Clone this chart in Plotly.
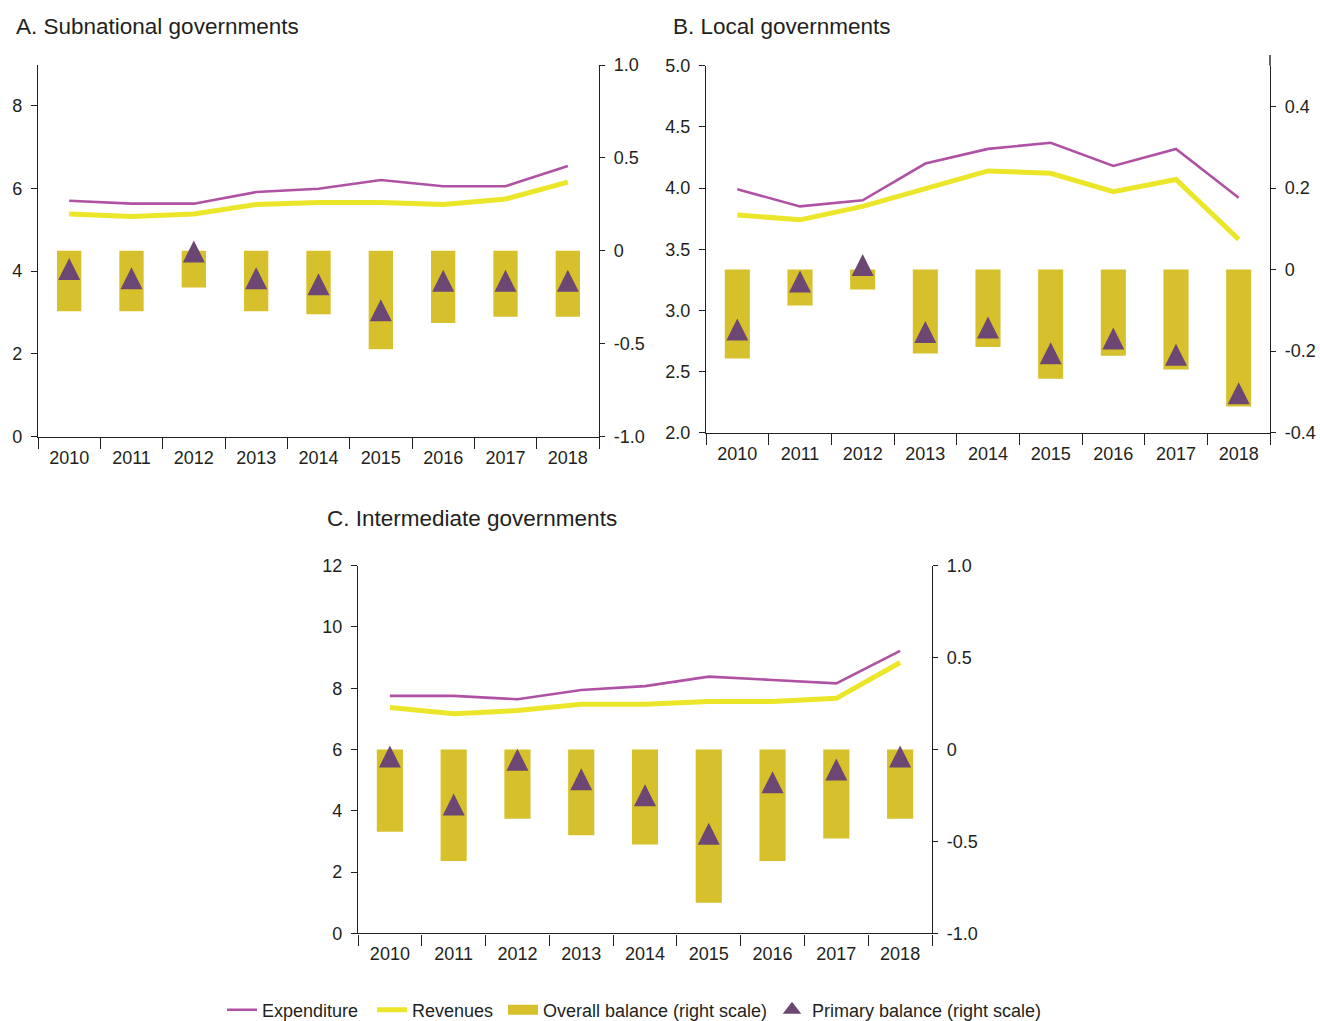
import plotly.graph_objects as go

# Fiscal indicators of subnational governments, % of GDP (left) and balances (right)
years = ["2010", "2011", "2012", "2013", "2014", "2015", "2016", "2017", "2018"]

# A. Subnational governments
sub_expenditure = [5.70, 5.63, 5.63, 5.91, 5.99, 6.20, 6.05, 6.05, 6.54]
sub_revenues = [5.38, 5.32, 5.38, 5.61, 5.66, 5.66, 5.61, 5.74, 6.15]
sub_overall = [-0.325, -0.325, -0.197, -0.325, -0.341, -0.530, -0.388, -0.355, -0.355]
sub_primary = [-0.039, -0.088, 0.056, -0.088, -0.120, -0.260, -0.102, -0.102, -0.102]

# B. Local governments
loc_expenditure = [3.99, 3.85, 3.90, 4.20, 4.32, 4.37, 4.18, 4.32, 3.92]
loc_revenues = [3.78, 3.74, 3.85, 3.99, 4.14, 4.12, 3.97, 4.07, 3.58]
loc_overall = [-0.218, -0.088, -0.049, -0.206, -0.190, -0.268, -0.211, -0.245, -0.336]
loc_primary = [-0.120, -0.002, 0.038, -0.126, -0.115, -0.178, -0.142, -0.182, -0.276]

# C. Intermediate governments
int_expenditure = [7.75, 7.75, 7.64, 7.94, 8.07, 8.38, 8.27, 8.16, 9.22]
int_revenues = [7.37, 7.17, 7.27, 7.48, 7.48, 7.57, 7.57, 7.67, 8.84]
int_overall = [-0.448, -0.607, -0.377, -0.466, -0.517, -0.834, -0.607, -0.484, -0.377]
int_primary = [0.022, -0.239, 0.004, -0.102, -0.189, -0.399, -0.118, -0.049, 0.022]

titles = ["A. Subnational governments", "B. Local governments", "C. Intermediate governments"]
legend_names = ["Expenditure", "Revenues", "Overall balance (right scale)",
                "Primary balance (right scale)"]

C_EXP = "#B052A4"
C_REV = "#ECE62A"
C_BAR = "#D6C12C"
C_TRI = "#6C4773"
C_AX = "#231F20"

W, H = 1320, 1021

panels = [
    dict(exp=sub_expenditure, rev=sub_revenues, ovr=sub_overall, pri=sub_primary,
         xdom=[38 / W, 599 / W], ydom=[1 - 436.7 / H, 1 - 65 / H],
         lrange=[0, 8.98], lticks=[0, 2, 4, 6, 8], lfmt="d",
         rrange=[-1, 1], rticks=[-1, -0.5, 0, 0.5, 1],
         rtext=["-1.0", "-0.5", "0", "0.5", "1.0"], barw=0.39),
    dict(exp=loc_expenditure, rev=loc_revenues, ovr=loc_overall, pri=loc_primary,
         xdom=[706 / W, 1270 / W], ydom=[1 - 432.7 / H, 1 - 65.7 / H],
         lrange=[2, 5], lticks=[2, 2.5, 3, 3.5, 4, 4.5, 5], lfmt=".1f",
         rrange=[-0.4, 0.5], rticks=[-0.4, -0.2, 0, 0.2, 0.4],
         rtext=["-0.4", "-0.2", "0", "0.2", "0.4"], barw=0.40),
    dict(exp=int_expenditure, rev=int_revenues, ovr=int_overall, pri=int_primary,
         xdom=[358 / W, 932 / W], ydom=[1 - 933.3 / H, 1 - 565.7 / H],
         lrange=[0, 12], lticks=[0, 2, 4, 6, 8, 10, 12], lfmt="d",
         rrange=[-1, 1], rticks=[-1, -0.5, 0, 0.5, 1],
         rtext=["-1.0", "-0.5", "0", "0.5", "1.0"], barw=0.41),
]

TICK_FONT = dict(family="Liberation Sans", size=18, color=C_AX)

fig = go.Figure()
layout = {}

for i, p in enumerate(panels):
    xa = "x" if i == 0 else f"x{i + 1}"
    yl_n = 2 * i + 1
    yr_n = 2 * i + 2
    yl = "y" if yl_n == 1 else f"y{yl_n}"
    yr = f"y{yr_n}"
    show = i == 0

    fig.add_trace(go.Scatter(x=years, y=p["exp"], mode="lines", name=legend_names[0],
                             line=dict(color=C_EXP, width=2.6), xaxis=xa, yaxis=yl,
                             showlegend=show, legend="legend"))
    fig.add_trace(go.Scatter(x=years, y=p["rev"], mode="lines", name=legend_names[1],
                             line=dict(color=C_REV, width=5), xaxis=xa, yaxis=yl,
                             showlegend=show, legend="legend2"))
    fig.add_trace(go.Bar(x=years, y=p["ovr"], name=legend_names[2],
                         marker=dict(color=C_BAR, line=dict(width=0)), width=p["barw"],
                         xaxis=xa, yaxis=yr, showlegend=False))
    fig.add_trace(go.Scatter(x=years, y=p["pri"], mode="markers", name=legend_names[3],
                             marker=dict(symbol="arrow-up", size=22, color=C_TRI,
                                         line=dict(width=0)),
                             xaxis=xa, yaxis=yr, showlegend=False))

    xkey = "xaxis" if i == 0 else f"xaxis{i + 1}"
    lkey = "yaxis" if yl_n == 1 else f"yaxis{yl_n}"
    rkey = f"yaxis{yr_n}"

    layout[xkey] = dict(domain=p["xdom"], anchor=yl, type="category",
                        range=[-0.5, 8.5], tickson="boundaries", ticks="outside",
                        ticklen=11, tickwidth=1.4, tickcolor=C_AX, showline=True,
                        linecolor=C_AX, linewidth=1.4, showgrid=False, zeroline=False,
                        tickfont=TICK_FONT, fixedrange=True, ticklabelstandoff=4)
    layout[lkey] = dict(domain=p["ydom"], anchor=xa, range=p["lrange"],
                        tickvals=p["lticks"], tickformat=p["lfmt"], ticks="outside",
                        ticklen=6, tickwidth=1.2, tickcolor=C_AX, showline=True,
                        linecolor=C_AX, linewidth=1.4, showgrid=False, zeroline=False,
                        tickfont=TICK_FONT, ticklabelstandoff=5)
    layout[rkey] = dict(overlaying=yl, anchor=xa, side="right", range=p["rrange"],
                        tickvals=p["rticks"], ticktext=p["rtext"], ticks="outside",
                        ticklen=5, tickwidth=1.2, tickcolor=C_AX, showline=True,
                        linecolor=C_AX, linewidth=1.4, showgrid=False, zeroline=False,
                        tickfont=TICK_FONT, ticklabelstandoff=5)

# legend keys for the balance series (drawn above via their own traces)
fig.add_trace(go.Scatter(x=[None], y=[None], mode="lines", name=legend_names[2],
                         line=dict(color=C_BAR, width=20), legend="legend3",
                         showlegend=True, xaxis="x", yaxis="y2"))
fig.add_trace(go.Scatter(x=[None], y=[None], mode="markers", name=legend_names[3],
                         marker=dict(symbol="triangle-up", size=22, color=C_TRI,
                                     line=dict(width=0)),
                         legend="legend4", showlegend=True, xaxis="x", yaxis="y2"))

title_pos = [(14, 27), (671, 27), (325, 518)]
annotations = []
for t, (px, py) in zip(titles, title_pos):
    annotations.append(dict(text=t, x=px / W, y=1 - py / H, xref="paper", yref="paper",
                            xanchor="left", yanchor="middle", showarrow=False,
                            font=dict(family="Liberation Sans", size=22.5, color=C_AX)))

# the right scale of panel B runs a little above its plotting area
shapes = [dict(type="line", xref="paper", yref="paper",
               x0=1270 / W, x1=1270 / W, y0=1 - 65.7 / H, y1=1 - 55 / H,
               line=dict(color=C_AX, width=1.4))]

LEG_FONT = dict(family="Liberation Sans", size=18, color=C_AX)
legend_x = [222, 372, 503, 772]
legends = {}
for k, lx in enumerate(legend_x):
    key = "legend" if k == 0 else f"legend{k + 1}"
    legends[key] = dict(orientation="h", x=lx / W, y=1 - 1010 / H, xanchor="left",
                        yanchor="middle", font=LEG_FONT, itemwidth=30,
                        bgcolor="rgba(0,0,0,0)", borderwidth=0)

fig.update_layout(
    **layout,
    **legends,
    width=W, height=H,
    margin=dict(l=0, r=0, t=0, b=0, autoexpand=False),
    paper_bgcolor="white", plot_bgcolor="white",
    annotations=annotations, shapes=shapes,
    barmode="overlay",
    showlegend=True,
)

fig.write_html("out.html")
